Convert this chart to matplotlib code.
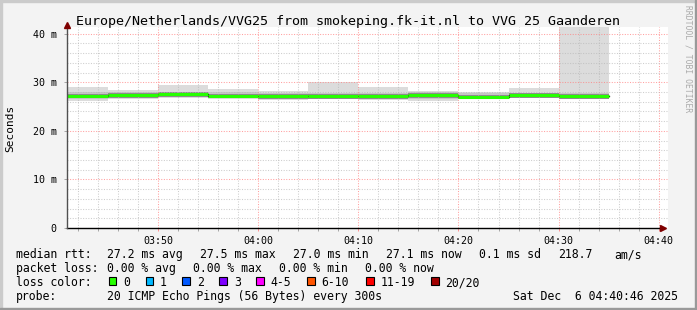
import matplotlib
matplotlib.use("Agg")
import matplotlib.pyplot as plt
from matplotlib.patches import Rectangle
import numpy as np

# ---------------- data ----------------
seg_start = ['03:40', '03:45', '03:50', '03:55', '04:00', '04:05',
             '04:10', '04:15', '04:20', '04:25', '04:30']
median_ms = [27.2, 27.3, 27.5, 27.2, 27.1, 27.1, 27.1, 27.3, 27.0, 27.3, 27.1]
max_ms    = [29.1, 28.4, 29.5, 28.6, 28.2, 30.0, 29.1, 28.2, 28.1, 28.8, 45.0]
min_ms    = [26.1, 26.5, 26.7, 26.5, 26.3, 26.5, 26.4, 26.1, 26.7, 26.7, 26.5]
q75_ms    = [28.1, 27.9, 27.9, 27.9, 27.8, 27.7, 27.8, 28.0, 27.8, 27.7, 27.8]
q25_ms    = [26.6, 26.9, 27.0, 26.8, 26.7, 26.8, 26.8, 26.6, 26.8, 26.9, 26.8]
xtick_labels = ['03:50', '04:00', '04:10', '04:20', '04:30', '04:40']
ytick_vals = [0, 10, 20, 30, 40]
ytick_labels = ['0', '10 m', '20 m', '30 m', '40 m']
loss_labels = ['0', '1', '2', '3', '4-5', '6-10', '11-19', '20/20']
loss_colors = ['#26ff00', '#00b8ff', '#0059ff', '#7e00ff', '#ff00ff',
               '#ff5500', '#ff0000', '#a10000']

title = "Europe/Netherlands/VVG25 from smokeping.fk-it.nl to VVG 25 Gaanderen"


def to_min(s):
    h, m = s.split(':')
    return (int(h) - 3) * 60 + int(m) - 40   # minutes after 03:40


W, H = 697, 310
MONO = 'DejaVu Sans Mono'
plt.rcParams['font.family'] = MONO

fig = plt.figure(figsize=(W / 100, H / 100), dpi=100, facecolor='#f3f3f3')


def fx(x):
    return x / W


def fy(y):
    return 1 - y / H


# frame shading
fig.patches.append(Rectangle((0, fy(2)), 1, 2 / H, transform=fig.transFigure,
                             color='#cbcbcb', zorder=-5))
fig.patches.append(Rectangle((0, 0), 2 / W, 1, transform=fig.transFigure,
                             color='#cbcbcb', zorder=-5))
fig.patches.append(Rectangle((0, 0), 1, 2 / H, transform=fig.transFigure,
                             color='#999999', zorder=-4))
fig.patches.append(Rectangle((1 - 2 / W, 0), 2 / W, 1, transform=fig.transFigure,
                             color='#999999', zorder=-4))

left, right, top, bottom = 67, 667.7, 27.3, 228
ax = fig.add_axes([fx(left), fy(bottom), (right - left) / W, (bottom - top) / H])
ax.set_facecolor('white')

x0 = 0.9
ax.set_xlim(x0, x0 + 60)
ymax = (bottom - top) / ((bottom - 82.3) / 30.0)
ax.set_ylim(0, ymax)

starts = np.array([to_min(s) for s in seg_start], dtype=float)
ends = starts + 5

for s, e, lo, q1, q3, hi, md in zip(starts, ends, min_ms, q25_ms, q75_ms,
                                     max_ms, median_ms):
    ax.fill_between([s, e], lo, hi, color='#dcdcdc', lw=0, zorder=1)
    ax.fill_between([s, e], q1, q3, color='#c6c6c6', lw=0, zorder=1.1)
    ax.fill_between([s, e], md - 0.45, md + 0.45, color='#8c8c8c', lw=0, zorder=1.2)

# median line (black thin step under loss coloured line)
ax.step(np.append(starts, ends[-1]), median_ms + [median_ms[-1]], where='post',
        color='black', lw=0.9, zorder=2)
ax.hlines(median_ms, starts, ends, color=loss_colors[0], lw=2.2, zorder=3)

# grid
xt = [to_min(t) for t in xtick_labels]
ax.set_xticks(xt)
ax.set_xticks([m for m in np.arange(2, 61, 2) if m not in xt], minor=True)
ax.set_yticks(ytick_vals)
ax.set_yticks([v for v in range(2, 41, 2) if v % 10], minor=True)
ax.set_xticklabels(xtick_labels)
ax.set_yticklabels(ytick_labels)
ax.grid(which='major', color='#ff8080', ls=(0, (1, 1.5)), lw=0.75, alpha=0.75, zorder=4)
ax.grid(which='minor', color='#b8b8b8', ls=(0, (1, 1.5)), lw=0.75, alpha=0.7, zorder=4)
ax.set_axisbelow(False)

ax.tick_params(which='both', direction='out', length=2, width=0.6, colors='#999999',
               labelcolor='black', labelsize=7.2)
ax.tick_params(axis='x', which='major', pad=4, color='#ff8080')
ax.tick_params(axis='y', which='major', pad=5.5)
ax.tick_params(axis='y', which='minor', length=0)
for sp in ax.spines.values():
    sp.set_visible(False)

# axis lines with arrows
ax.plot([0, 0.992], [0, 0], transform=ax.transAxes, color='black', lw=1.0,
        clip_on=False, zorder=6)
ax.plot([0, 0], [0, 1.0], transform=ax.transAxes, color='#505050', lw=1.0,
        clip_on=False, zorder=6)
ax.plot([0.992], [0], transform=ax.transAxes, marker='>', ms=4.5, color='#7f0000',
        mec='#7f0000', clip_on=False, zorder=7)
ax.plot([0], [1.01], transform=ax.transAxes, marker='^', ms=4.5, color='#7f0000',
        mec='#7f0000', clip_on=False, zorder=7)

# texts
fig.text(fx(348), fy(24.5), title, ha='center', va='baseline', fontsize=9.6,
         family=MONO, color='black')
fig.text(fx(10.5), fy(128), 'Seconds', rotation=90, ha='center', va='center',
         fontsize=8, family=MONO)
fig.text(fx(688), fy(5), 'RRDTOOL / TOBI OETIKER', rotation=270, ha='center',
         va='top', fontsize=5.8, family=MONO, color='#aaaaaa')

LF = 8.3
rows = [
    (258, [(16, 'median rtt:'), (107, '27.2 ms avg'), (200, '27.5 ms max'),
           (293, '27.0 ms min'), (386, '27.1 ms now'), (479, '0.1 ms sd'),
           (558, '218.7'), (614, 'am/s')]),
    (272, [(16, 'packet loss:'), (107, '0.00 % avg'), (193, '0.00 % max'),
           (279, '0.00 % min'), (365, '0.00 % now')]),
    (286, [(16, 'loss color:')]),
    (299.7, [(16, 'probe:'), (107, '20 ICMP Echo Pings (56 Bytes) every 300s'),
             (513, 'Sat Dec  6 04:40:46 2025')]),
]
for yb, items in rows:
    for xp, txt in items:
        fig.text(fx(xp), fy(yb), txt, ha='left', va='baseline', fontsize=LF,
                 family=MONO, color='black')

box_x = [108.5, 145.5, 182.3, 219.3, 256.3, 307, 366, 431]
for bx, lab, col in zip(box_x, loss_labels, loss_colors):
    fig.patches.append(Rectangle((fx(bx), fy(284.5)), 7.5 / W, 7.5 / H,
                                 transform=fig.transFigure, facecolor=col,
                                 edgecolor='black', lw=0.8))
    fig.text(fx(bx + 14.5), fy(286), lab, ha='left', va='baseline', fontsize=LF,
             family=MONO, color='black')

fig.savefig('out.png', dpi=100, facecolor=fig.get_facecolor())
